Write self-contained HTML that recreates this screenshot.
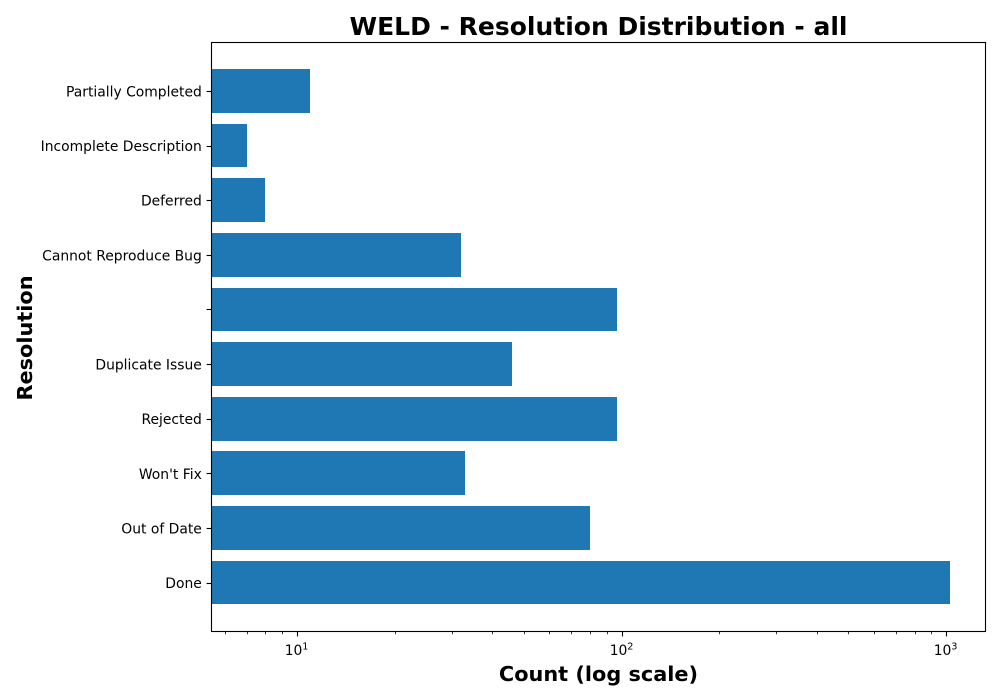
<!DOCTYPE html>
<html>
<head>
<meta charset="utf-8">
<title>WELD - Resolution Distribution - all</title>
<style>
html,body{margin:0;padding:0;background:#fff;}
svg{display:block;font-family:"DejaVu Sans","Liberation Sans",sans-serif;}
.tick-label{font-size:13.89px;fill:#000;}
.axis-title{font-size:20.83px;font-weight:bold;fill:#000;}
.chart-title{font-size:25px;font-weight:bold;fill:#000;}
</style>
</head>
<body>
<svg id="chart" width="1000" height="700" viewBox="0 0 1000 700" xmlns="http://www.w3.org/2000/svg">
  <rect x="0" y="0" width="1000" height="700" fill="#ffffff"></rect>
  <rect x="211.5" y="42.5" width="774" height="589" fill="#ffffff"></rect>
  <g id="bars"></g>
  <g id="y-axis"></g>
  <g id="x-axis"></g>
  <rect x="211.5" y="42.5" width="774" height="589" fill="none" stroke="#000" stroke-width="1.1"></rect>
  <text class="chart-title" x="598.5" y="35" text-anchor="middle">WELD - Resolution Distribution - all</text>
  <text class="axis-title" x="598.5" y="681" text-anchor="middle">Count (log scale)</text>
  <text class="axis-title" transform="translate(32,338) rotate(-90)" text-anchor="middle">Resolution</text>
</svg>
<script>
const categories = ["Done", "Out of Date", "Won't Fix", "Rejected", "Duplicate Issue", "", "Cannot Reproduce Bug", "Deferred", "Incomplete Description", "Partially Completed"];
const counts = [1024, 80, 33, 97, 46, 97, 32, 8, 7, 11];
const majorTickExponents = [1, 2, 3];
const minorTickValues = [6, 7, 8, 9, 20, 30, 40, 50, 60, 70, 80, 90, 200, 300, 400, 500, 600, 700, 800, 900];

const SVG_NS = 'http://www.w3.org/2000/svg';
const plotLeft = 211.5;
const plotBottom = 631.5;

function xScale(value) {
  return 297.3 + (Math.log10(value) - 1) * 324.7;
}

function yScale(index) {
  return 582.5 - index * 54.61;
}

function makeEl(tag, attrs) {
  const el = document.createElementNS(SVG_NS, tag);
  for (const key in attrs) {
    el.setAttribute(key, attrs[key]);
  }
  return el;
}

const barsGroup = document.getElementById('bars');
const yAxisGroup = document.getElementById('y-axis');
const xAxisGroup = document.getElementById('x-axis');

counts.forEach(function (count, i) {
  const center = yScale(i);
  const top = Math.round(center - 21.85);
  const bottom = Math.round(center + 21.85);
  const bar = makeEl('rect', {
    x: plotLeft,
    y: top,
    width: Math.floor(xScale(count)) - plotLeft,
    height: bottom - top,
    fill: '#1f77b4'
  });
  
  
  barsGroup.appendChild(bar);

  const tickY = Math.round(center) + 0.5;
  const tick = makeEl('line', {
    x1: plotLeft - 4.9,
    x2: plotLeft,
    y1: tickY,
    y2: tickY,
    stroke: '#000',
    'stroke-width': 1.1
  });
  
  
  yAxisGroup.appendChild(tick);

  const label = makeEl('text', {
    x: 201.8,
    y: center + 5.5,
    'text-anchor': 'end',
    class: 'tick-label'
  });
  label.textContent = categories[i];
  
  
  yAxisGroup.appendChild(label);
});

majorTickExponents.forEach(function (exponent) {
  const x = Math.round(xScale(Math.pow(10, exponent)) - 0.5) + 0.5;
  const tick = makeEl('line', {
    x1: x,
    x2: x,
    y1: plotBottom,
    y2: plotBottom + 4.9,
    stroke: '#000',
    'stroke-width': 1.1
  });
  
  
  xAxisGroup.appendChild(tick);

  const label = makeEl('text', {
    x: x - 12.8,
    y: 655,
    class: 'tick-label'
  });
  label.textContent = '10';
  
  
  xAxisGroup.appendChild(label);

  const power = makeEl('text', {
    x: x + 4.8,
    y: 649.5,
    class: 'tick-label',
    style: 'font-size:9.7px'
  });
  power.textContent = String(exponent);
  
  
  xAxisGroup.appendChild(power);
});

minorTickValues.forEach(function (value) {
  const x = Math.round(xScale(value) - 0.5) + 0.5;
  const tick = makeEl('line', {
    x1: x,
    x2: x,
    y1: plotBottom,
    y2: plotBottom + 2.8,
    stroke: '#000',
    'stroke-width': 0.8
  });
  
  
  xAxisGroup.appendChild(tick);
});
</script>
</body>
</html>
